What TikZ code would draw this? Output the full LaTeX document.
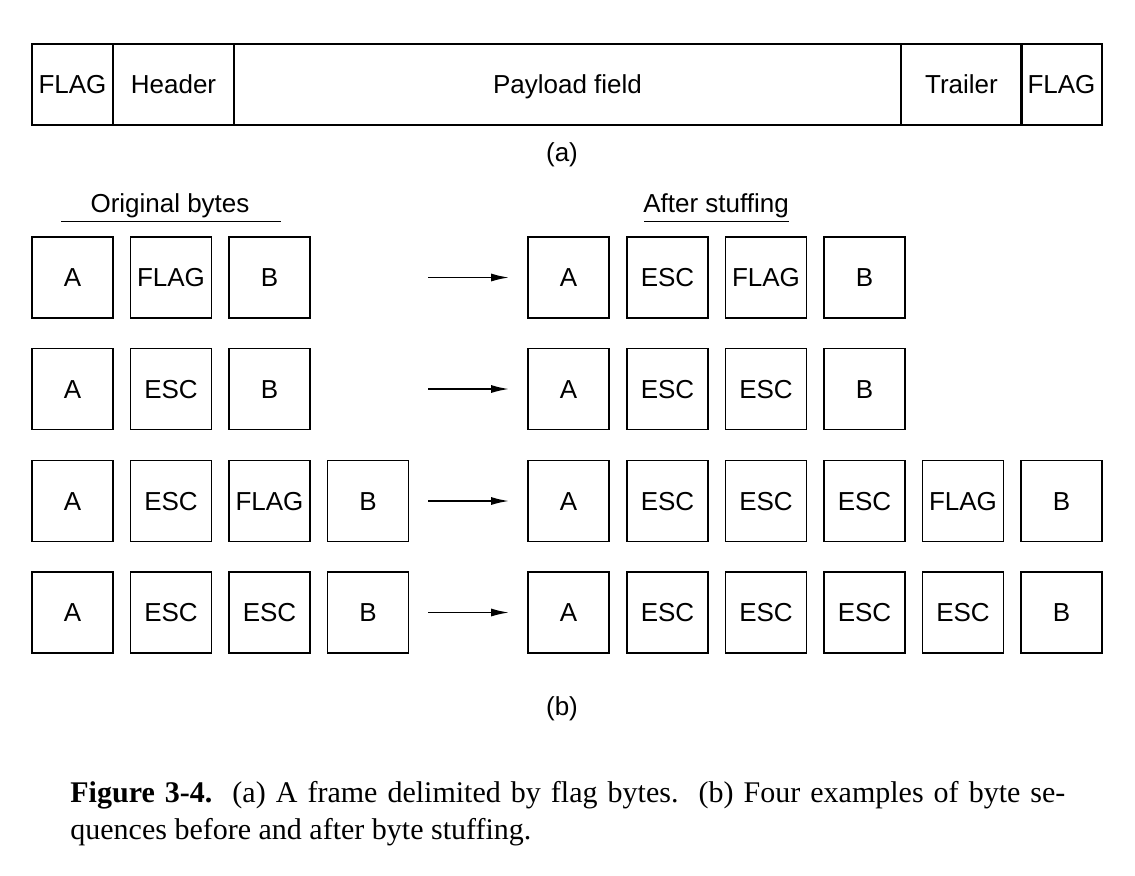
\documentclass[tikz,border=0pt]{standalone}
\usepackage{fontspec}
\setmainfont{Liberation Serif}
\setsansfont{Liberation Sans}
\usetikzlibrary{arrows.meta}

\begin{document}
\begin{tikzpicture}[x=0.5pt,y=-0.5pt]
\tikzstyle{field}=[draw, line width=0.8pt, inner sep=0pt, minimum height=40.5pt, text height=9.4pt, text depth=0pt, font=\sffamily\fontsize{13}{15}\selectfont]
\tikzstyle{byte}=[field, minimum width=40.5pt]
\tikzstyle{tag}=[inner sep=0pt, font=\sffamily\fontsize{13}{15}\selectfont]
\tikzstyle{stuffarrow}=[-{Latex[length=9pt,width=4pt]}, line width=0.9pt, shorten >=9pt]

\useasboundingbox (0,0) rectangle (1135,875);

% frame (a)
\draw (72.5,84.5) node[field, minimum width=40.5pt] (flag0) {FLAG};
\draw (173.5,84.5) node[field, minimum width=60.5pt] (header) {Header};
\draw (567.5,84.5) node[field, minimum width=333.5pt] (payload) {Payload field};
\draw (961.5,84.5) node[field, minimum width=60.5pt] (trailer) {Trailer};
\draw (1061.5,84.5) node[field, minimum width=40.5pt] (flag1) {FLAG};
\draw (562,155) node[tag] (parta) {(a)};

% headings
\draw (170,212) node[tag, anchor=base] (orig) {Original bytes};
\draw (716,212) node[tag, anchor=base] (after) {After stuffing};
\coordinate (origl) at (61,221.5);
\coordinate (origr) at (281,221.5);
\coordinate (afterl) at (644,221.5);
\coordinate (afterr) at (789,221.5);
\draw[line width=0.8pt] (origl) -- (origr);
\draw[line width=0.8pt] (afterl) -- (afterr);

% row 1
\draw (72.5,277.5) node[byte] (l1a) {A};
\draw (171,277.5) node[byte] (l1b) {FLAG};
\draw (269.5,277.5) node[byte] (l1c) {B};
\draw (568.5,277.5) node[byte] (r1a) {A};
\draw (667.5,277.5) node[byte] (r1b) {ESC};
\draw (766,277.5) node[byte] (r1c) {FLAG};
\draw (864.5,277.5) node[byte] (r1d) {B};
\coordinate (s1) at (428,277.5);
\draw[stuffarrow] (s1) -- (r1a);

% row 2
\draw (72.5,389) node[byte] (l2a) {A};
\draw (171,389) node[byte] (l2b) {ESC};
\draw (269.5,389) node[byte] (l2c) {B};
\draw (568.5,389) node[byte] (r2a) {A};
\draw (667.5,389) node[byte] (r2b) {ESC};
\draw (766,389) node[byte] (r2c) {ESC};
\draw (864.5,389) node[byte] (r2d) {B};
\coordinate (s2) at (428,389);
\draw[stuffarrow] (s2) -- (r2a);

% row 3
\draw (72.5,501) node[byte] (l3a) {A};
\draw (171,501) node[byte] (l3b) {ESC};
\draw (269.5,501) node[byte] (l3c) {FLAG};
\draw (368,501) node[byte] (l3d) {B};
\draw (568.5,501) node[byte] (r3a) {A};
\draw (667.5,501) node[byte] (r3b) {ESC};
\draw (766,501) node[byte] (r3c) {ESC};
\draw (864.5,501) node[byte] (r3d) {ESC};
\draw (963,501) node[byte] (r3e) {FLAG};
\draw (1061.5,501) node[byte] (r3f) {B};
\coordinate (s3) at (428,501);
\draw[stuffarrow] (s3) -- (r3a);

% row 4
\draw (72.5,612.5) node[byte] (l4a) {A};
\draw (171,612.5) node[byte] (l4b) {ESC};
\draw (269.5,612.5) node[byte] (l4c) {ESC};
\draw (368,612.5) node[byte] (l4d) {B};
\draw (568.5,612.5) node[byte] (r4a) {A};
\draw (667.5,612.5) node[byte] (r4b) {ESC};
\draw (766,612.5) node[byte] (r4c) {ESC};
\draw (864.5,612.5) node[byte] (r4d) {ESC};
\draw (963,612.5) node[byte] (r4e) {ESC};
\draw (1061.5,612.5) node[byte] (r4f) {B};
\coordinate (s4) at (428,612.5);
\draw[stuffarrow] (s4) -- (r4a);

\draw (562,709) node[tag] (partb) {(b)};

% caption
\draw (70,781) node[anchor=north west, inner sep=0pt, text width=497.5pt, align=justify, font=\fontsize{15}{18.3}\selectfont] (caption) {\textbf{Figure 3-4.}\ \ (a) A frame delimited by flag bytes.\ \ (b) Four examples of byte se-\linebreak quences before and after byte stuffing.};
\end{tikzpicture}
\end{document}
